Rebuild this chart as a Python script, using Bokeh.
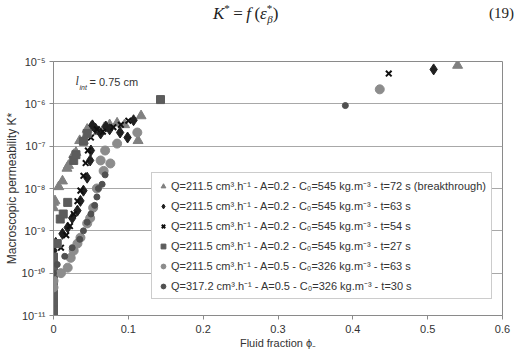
from bokeh.plotting import figure
from bokeh.models import (Range1d, FixedTicker, CustomJSTickFormatter, Label, Legend, Div)
from bokeh.layouts import column
from bokeh.embed import file_html
from bokeh.resources import INLINE

# ---- data ----
tri_phi = [0.0, 0.0, 0.002, 0.007, 0.012, 0.018, 0.020, 0.027, 0.030, 0.035, 0.040,
           0.045, 0.050, 0.060, 0.068, 0.075, 0.085, 0.095, 0.113, 0.117, 0.540]
tri_K = [3.5e-9, 4.7e-9, 5.1e-9, 1.1e-8, 1.5e-8, 3.0e-8, 3.5e-8, 6.3e-8, 7.1e-8, 1.35e-7, 1.35e-7,
         2.5e-7, 2.8e-7, 2.2e-7, 2.75e-7, 3.2e-7, 3.5e-7, 3.2e-7, 1.35e-7, 5.2e-7, 8.1e-6]

dia_phi = [0.0, 0.003, 0.012, 0.019, 0.025, 0.032, 0.036, 0.040, 0.045, 0.049, 0.050,
           0.052, 0.056, 0.063, 0.070, 0.075, 0.089, 0.099, 0.107, 0.508]
dia_K = [3.4e-10, 5.2e-10, 8.5e-10, 1.2e-9, 2.0e-9, 3.0e-9, 5.1e-9, 8.9e-9, 1.8e-8, 4.6e-8, 7.9e-8,
         3.1e-7, 2.6e-7, 2.0e-7, 2.9e-7, 2.5e-7, 2.1e-7, 1.6e-7, 4.1e-7, 6.5e-6]

x_phi = [0.0, 0.002, 0.010, 0.017, 0.022, 0.027, 0.032, 0.036, 0.040, 0.043, 0.046,
         0.050, 0.058, 0.066, 0.080, 0.090, 0.100, 0.448]
x_K = [1.3e-10, 1.6e-10, 4.0e-10, 7.9e-10, 1.3e-9, 2.5e-9, 5.0e-9, 8.9e-9, 2.0e-8, 4.0e-8, 7.9e-8,
       1.6e-7, 2.5e-7, 2.2e-7, 2.8e-7, 3.2e-7, 4.0e-7, 5.2e-6]

sq_phi = [0.0, 0.0, 0.0, 0.0, 0.0, 0.0, 0.0, 0.0, 0.0, 0.0, 0.005, 0.009, 0.013, 0.019,
          0.027, 0.030, 0.040, 0.045, 0.143]
sq_K = [1.1e-11, 1.5e-11, 2.1e-11, 3.0e-11, 4.2e-11, 6.0e-11, 8.5e-11, 1.2e-10, 1.7e-10, 2.4e-10,
        5.0e-10, 1.9e-9, 2.5e-9, 4.7e-9, 4.6e-8, 6.3e-8, 1.3e-7, 2.0e-7, 1.26e-6]

ci_phi = [0.0, 0.0, 0.010, 0.019, 0.023, 0.027, 0.032, 0.036, 0.045, 0.049, 0.053,
          0.058, 0.063, 0.067, 0.069, 0.076, 0.085, 0.112, 0.436]
ci_K = [4.6e-11, 6.6e-11, 1.0e-10, 1.35e-10, 2.3e-10, 3.4e-10, 5.0e-10, 6.9e-10, 1.5e-9, 2.0e-9, 3.5e-9,
        1.0e-8, 4.6e-8, 2.6e-8, 7.9e-8, 3.9e-8, 1.15e-7, 2.1e-7, 2.2e-6]

sc_phi = [0.0, 0.005, 0.015, 0.025, 0.035, 0.040, 0.045, 0.050, 0.055, 0.058, 0.060,
          0.065, 0.069, 0.390]
sc_K = [1.0e-10, 1.6e-10, 2.5e-10, 4.0e-10, 6.3e-10, 1.0e-9, 1.6e-9, 2.5e-9, 4.0e-9, 6.3e-9, 1.0e-8,
        1.26e-8, 2.1e-8, 9.1e-7]

labels = [
    "Q=211.5 cm³.h⁻¹ - A=0.2 - C₀=545 kg.m⁻³ - t=72 s (breakthrough)",
    "Q=211.5 cm³.h⁻¹ - A=0.2 - C₀=545 kg.m⁻³ - t=63 s",
    "Q=211.5 cm³.h⁻¹ - A=0.2 - C₀=545 kg.m⁻³ - t=54 s",
    "Q=211.5 cm³.h⁻¹ - A=0.2 - C₀=545 kg.m⁻³ - t=27 s",
    "Q=211.5 cm³.h⁻¹ - A=0.5 - C₀=326 kg.m⁻³ - t=63 s",
    "Q=317.2 cm³.h⁻¹ - A=0.5 - C₀=326 kg.m⁻³ - t=30 s",
]
x_ticks = [0, 0.1, 0.2, 0.3, 0.4, 0.5, 0.6]
y_ticks = [1e-11, 1e-10, 1e-9, 1e-8, 1e-7, 1e-6, 1e-5]

FONT = "Liberation Sans"

eq = Div(width=516, height=30, margin=(0, 0, 0, 0), text="""
<div style="position:relative;width:516px;height:30px;font-family:'Liberation Serif',serif;color:#222;">
<span style="position:absolute;left:213px;top:1px;white-space:nowrap;font-size:17px;"><i>K</i><sup style="font-size:11px;">*</sup>&#8201;=&#8201;<i>f</i>&#8201;(<i>ε</i><sup style="font-size:11px;">*</sup><sub style="font-size:11px;margin-left:-5px;"><i>β</i></sub>)</span>
<span style="position:absolute;left:489px;top:3px;font-size:15px;">(19)</span>
</div>""")

p = figure(width=516, height=325, output_backend="svg", toolbar_location=None,
           y_axis_type="log", x_range=Range1d(0, 0.6), y_range=Range1d(1e-11, 1e-5),
           min_border_left=53, min_border_right=14, min_border_top=31, min_border_bottom=40,
           margin=(0, 0, 0, 0))
p.background_fill_color = "white"
p.border_fill_color = "white"
p.outline_line_color = "#8a8a8a"
p.outline_line_width = 1

p.xgrid.visible = False
p.ygrid.grid_line_color = "#a8a8a8"
p.ygrid.grid_line_width = 1
p.ygrid.ticker = FixedTicker(ticks=y_ticks)

p.xaxis.ticker = FixedTicker(ticks=x_ticks)
p.yaxis.ticker = FixedTicker(ticks=y_ticks)
p.xaxis.formatter = CustomJSTickFormatter(code="return tick === 0 ? '0' : tick.toFixed(1);")
p.yaxis.formatter = CustomJSTickFormatter(code="""
const sup = {'-': '\u207b', '0': '\u2070', '1': '\u00b9', '2': '\u00b2', '3': '\u00b3',
             '4': '\u2074', '5': '\u2075', '6': '\u2076', '7': '\u2077', '8': '\u2078', '9': '\u2079'};
const e = Math.round(Math.log10(tick));
return '10' + String(e).split('').map(c => sup[c]).join('');
""")
for ax in (p.xaxis, p.yaxis):
    ax.axis_line_color = "#8a8a8a"
    ax.major_tick_line_color = "#8a8a8a"
    ax.major_tick_out = 4
    ax.major_tick_in = 0
    ax.minor_tick_line_color = None
    ax.major_label_text_font = FONT
    ax.major_label_text_font_size = "11px"
    ax.major_label_text_color = "#333333"
    ax.axis_label_text_font = FONT
    ax.axis_label_text_font_style = "normal"
    ax.axis_label_text_color = "#333333"
p.xaxis.axis_label_text_font_size = "11px"
p.yaxis.axis_label_text_font_size = "12px"
p.xaxis.axis_label = "Fluid fraction ϕ₋"
p.yaxis.axis_label = "Macroscopic permeability K*"
p.xaxis.major_label_standoff = 5
p.yaxis.major_label_standoff = 4
p.xaxis.axis_label_standoff = 1
p.yaxis.axis_label_standoff = 0

r1 = p.scatter(tri_phi, tri_K, marker="triangle", size=10, fill_color="#808080", line_color="#808080")
r2 = p.scatter(dia_phi, dia_K, marker="diamond", size=11, fill_color="#202020", line_color="#202020")
r3 = p.scatter(x_phi, x_K, marker="x", size=8, line_color="#101010", line_width=2)
r4 = p.scatter(sq_phi, sq_K, marker="square", size=8, fill_color="#5c5c5c", line_color="#5c5c5c")
r5 = p.scatter(ci_phi, ci_K, marker="circle", size=9, fill_color="#8c8c8c", line_color="#8c8c8c")
r6 = p.scatter(sc_phi, sc_K, marker="circle", size=6, fill_color="#505050", line_color="#505050")

legend = Legend(items=[(labels[i], [r]) for i, r in enumerate([r1, r2, r3, r4, r5, r6])],
                location=(98, 16))
legend.label_text_font = FONT
legend.label_text_font_size = "11px"
legend.label_text_color = "#333333"
legend.label_height = 14
legend.glyph_height = 14
legend.glyph_width = 12
legend.label_standoff = 2
legend.spacing = 5
legend.padding = 5
legend.margin = 0
legend.border_line_color = "#9a9a9a"
legend.border_line_width = 1
legend.background_fill_color = "white"
legend.background_fill_alpha = 1
p.add_layout(legend, "center")

# annotation inside plot
p.add_layout(Label(x=22, y=228, x_units="screen", y_units="screen", text="l",
                   text_font="Liberation Serif", text_font_style="italic",
                   text_font_size="12px", text_color="#333333"))
p.add_layout(Label(x=26, y=225, x_units="screen", y_units="screen", text="int",
                   text_font=FONT, text_font_style="italic",
                   text_font_size="7px", text_color="#333333"))
p.add_layout(Label(x=36, y=228, x_units="screen", y_units="screen", text="= 0.75 cm",
                   text_font=FONT, text_font_size="11px", text_color="#333333"))

layout = column(eq, p, spacing=0, margin=(0, 0, 0, 0))
open("out.html", "w").write(file_html(layout, INLINE))
